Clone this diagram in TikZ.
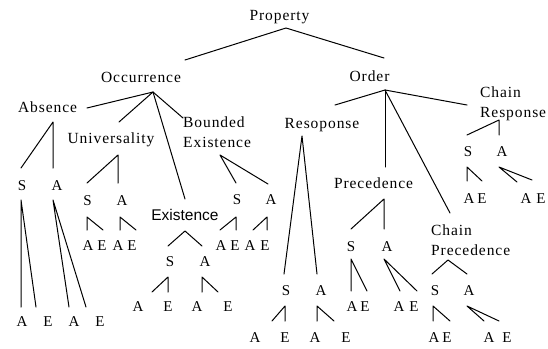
\documentclass[tikz,border=0pt]{standalone}
\usepackage{fontspec}
\setmainfont{Liberation Serif}
\newfontfamily\wordfont{Liberation Serif}[LetterSpace=6]
\newfontfamily\sansword{Liberation Sans}
\begin{document}
\begin{tikzpicture}[x=1pt,y=-1pt,
  word/.style={font=\wordfont\fontsize{15.5}{20}\selectfont, inner sep=0pt, anchor=base},
  word2/.style={word, anchor=base west, align=left},
  sword/.style={font=\sansword\fontsize{15.5}{20}\selectfont, inner sep=0pt, anchor=base},
  ltr/.style={font=\fontsize{15}{18}\selectfont, inner sep=0pt},
  br/.style={line width=1pt, line cap=round, line join=round}]
\useasboundingbox[fill=white] (0,0) rectangle (548,348);

% ---------- word nodes ----------
\node[word] (prop) at (279.5,20) {Property};
\node[word] (occ) at (141,82) {Occurrence};
\node[word] (abs) at (47.5,112) {Absence};
\node[word] (uni) at (111,143) {Universality};
\node[word2] (bex) at (183,147) {Bounded\\Existence};
\node[sword] (exi) at (185,220) {Existence};
\node[word] (ord) at (369.5,81) {Order};
\node[word] (res) at (322,128) {Resoponse};
\node[word] (pre) at (373.5,188) {Precedence};
\node[word2] (cpr) at (431,255) {Chain\\Precedence};
\node[word2] (crs) at (480,117) {Chain\\Response};

% ---------- letter nodes ----------
% Absence
\node[ltr] (abS) at (22,186) {S};
\node[ltr] (abA) at (57,186) {A};
\node[ltr] (ab1) at (22,322) {A};
\node[ltr] (ab2) at (48,322) {E};
\node[ltr] (ab3) at (74,322) {A};
\node[ltr] (ab4) at (100,322) {E};
% Universality
\node[ltr] (unS) at (87.5,201) {S};
\node[ltr] (unAl) at (122,201) {A};
\node[ltr] (un1) at (88,246) {A};
\node[ltr] (un2) at (102,246) {E};
\node[ltr] (un3) at (118,246) {A};
\node[ltr] (un4) at (132,246) {E};
% Existence
\node[ltr] (exS) at (170,262) {S};
\node[ltr] (exAl) at (205,262) {A};
\node[ltr] (ex1) at (138,307) {A};
\node[ltr] (ex2) at (168,307) {E};
\node[ltr] (ex3) at (197,307) {A};
\node[ltr] (ex4) at (228,307) {E};
% Bounded Existence
\node[ltr] (bxS) at (237,200) {S};
\node[ltr] (bxAl) at (271,200) {A};
\node[ltr] (bx1) at (221,246) {A};
\node[ltr] (bx2) at (235,246) {E};
\node[ltr] (bx3) at (250,246) {A};
\node[ltr] (bx4) at (265,246) {E};
% Resoponse
\node[ltr] (rsS) at (286,291) {S};
\node[ltr] (rsAl) at (321,291) {A};
\node[ltr] (rs1) at (255,338) {A};
\node[ltr] (rs2) at (285,338) {E};
\node[ltr] (rs3) at (315,338) {A};
\node[ltr] (rs4) at (346,338) {E};
% Precedence
\node[ltr] (prS) at (351,247) {S};
\node[ltr] (prAl) at (387,247) {A};
\node[ltr] (pr1) at (352,307) {A};
\node[ltr] (pr2) at (365,307) {E};
\node[ltr] (pr3) at (399,307) {A};
\node[ltr] (pr4) at (414,307) {E};
% Chain Precedence
\node[ltr] (cpS) at (435,291) {S};
\node[ltr] (cpAl) at (469,291) {A};
\node[ltr] (cp1) at (434,338) {A};
\node[ltr] (cp2) at (447,338) {E};
\node[ltr] (cp3) at (489,338) {A};
\node[ltr] (cp4) at (507,338) {E};
% Chain Response
\node[ltr] (crS) at (468,152) {S};
\node[ltr] (crAl) at (502,152) {A};
\node[ltr] (cr1) at (469,199) {A};
\node[ltr] (cr2) at (482,199) {E};
\node[ltr] (cr3) at (526,199) {A};
\node[ltr] (cr4) at (541,199) {E};

% ---------- connector end points ----------
\coordinate (pA) at (286,28);  \coordinate (pL) at (185,60);  \coordinate (pR) at (384,58);
\coordinate (oA) at (153,92);  \coordinate (oAbs) at (87,108); \coordinate (oUni) at (119,122);
\coordinate (oExi) at (185,199); \coordinate (oBnd) at (183,118);
\coordinate (abTop) at (53,122); \coordinate (abL) at (21,168); \coordinate (abR) at (53,168);
\coordinate (abSa) at (21,200); \coordinate (abS1) at (21,307); \coordinate (abS2) at (36,307);
\coordinate (abAa) at (53,200); \coordinate (abA1) at (69,307); \coordinate (abA2) at (86,307);
\coordinate (unTop) at (118,155); \coordinate (unL) at (87,183); \coordinate (unR) at (118,183);
\coordinate (unSa) at (87,217); \coordinate (unS1) at (87,230); \coordinate (unS2) at (103,230);
\coordinate (unAa) at (120,217); \coordinate (unA1) at (120,230); \coordinate (unA2) at (136,230);
\coordinate (exTop) at (185,231); \coordinate (exL) at (168,246); \coordinate (exR) at (202,246);
\coordinate (exSa) at (168,277); \coordinate (exS1) at (152,292); \coordinate (exS2) at (168,292);
\coordinate (exAa) at (202,277); \coordinate (exA1) at (202,292); \coordinate (exA2) at (218,292);
\coordinate (bxTop) at (220,155); \coordinate (bxL) at (236,183); \coordinate (bxR) at (268,184);
\coordinate (bxSa) at (236,217); \coordinate (bxS1) at (220,230); \coordinate (bxS2) at (236,230);
\coordinate (bxAa) at (267,217); \coordinate (bxA1) at (253,230); \coordinate (bxA2) at (267,230);
\coordinate (orTop) at (385,90); \coordinate (orRes) at (335,105); \coordinate (orPre) at (385,167);
\coordinate (orCP) at (450,213); \coordinate (orCR) at (467,105);
\coordinate (rsTop) at (302,136); \coordinate (rsL) at (284,274); \coordinate (rsR) at (317,274);
\coordinate (rsSa) at (285,306); \coordinate (rsS1) at (272,321); \coordinate (rsS2) at (285,321);
\coordinate (rsAa) at (317,306); \coordinate (rsA1) at (317,321); \coordinate (rsA2) at (334,321);
\coordinate (prTop) at (384,199); \coordinate (prL) at (351,229); \coordinate (prR) at (384,229);
\coordinate (prSa) at (351,259); \coordinate (prS1) at (351,291); \coordinate (prS2) at (367,291);
\coordinate (prAa) at (384,259); \coordinate (prA1) at (400,291); \coordinate (prA2) at (417,291);
\coordinate (cpTop) at (448,260); \coordinate (cpL) at (432,274); \coordinate (cpR) at (467,274);
\coordinate (cpSa) at (433,306); \coordinate (cpS1) at (433,321); \coordinate (cpS2) at (450,321);
\coordinate (cpAa) at (467,306); \coordinate (cpA1) at (484,321); \coordinate (cpA2) at (499,321);
\coordinate (crTop) at (499,120); \coordinate (crL) at (467,135); \coordinate (crR) at (499,135);
\coordinate (crSa) at (467,167); \coordinate (crS1) at (467,181); \coordinate (crS2) at (482,181);
\coordinate (crAa) at (499,167); \coordinate (crA1) at (517,182); \coordinate (crA2) at (532,180);

% ---------- connectors ----------
\draw[br] (pL) -- (pA) -- (pR);
\draw[br] (oAbs) -- (oA) -- (oUni);
\draw[br] (oA) -- (oExi);
\draw[br] (oA) -- (oBnd);
\draw[br] (abL) -- (abTop) -- (abR);
\draw[br] (abS1) -- (abSa) -- (abS2);
\draw[br] (abA1) -- (abAa) -- (abA2);
\draw[br] (unL) -- (unTop) -- (unR);
\draw[br] (unS1) -- (unSa) -- (unS2);
\draw[br] (unA1) -- (unAa) -- (unA2);
\draw[br] (exL) -- (exTop) -- (exR);
\draw[br] (exS1) -- (exSa) -- (exS2);
\draw[br] (exA1) -- (exAa) -- (exA2);
\draw[br] (bxL) -- (bxTop) -- (bxR);
\draw[br] (bxS1) -- (bxSa) -- (bxS2);
\draw[br] (bxA1) -- (bxAa) -- (bxA2);
\draw[br] (orRes) -- (orTop) -- (orCR);
\draw[br] (orTop) -- (orPre);
\draw[br] (orTop) -- (orCP);
\draw[br] (rsL) -- (rsTop) -- (rsR);
\draw[br] (rsS1) -- (rsSa) -- (rsS2);
\draw[br] (rsA1) -- (rsAa) -- (rsA2);
\draw[br] (prL) -- (prTop) -- (prR);
\draw[br] (prS1) -- (prSa) -- (prS2);
\draw[br] (prA1) -- (prAa) -- (prA2);
\draw[br] (cpL) -- (cpTop) -- (cpR);
\draw[br] (cpS1) -- (cpSa) -- (cpS2);
\draw[br] (cpA1) -- (cpAa) -- (cpA2);
\draw[br] (crL) -- (crTop) -- (crR);
\draw[br] (crS1) -- (crSa) -- (crS2);
\draw[br] (crA1) -- (crAa) -- (crA2);
\end{tikzpicture}
\end{document}
